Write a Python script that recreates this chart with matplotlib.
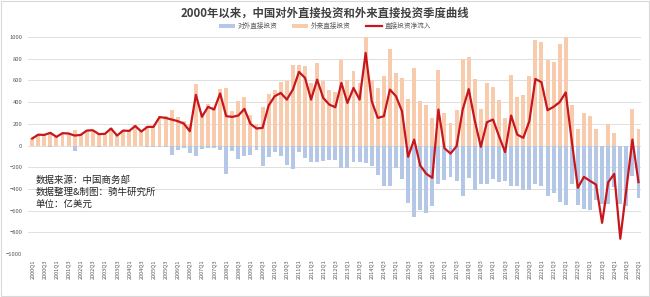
import numpy as np
import matplotlib
matplotlib.use("Agg")
import matplotlib.pyplot as plt
from matplotlib.patches import Rectangle

plt.rcParams['font.family'] = ['Noto Sans CJK SC', 'DejaVu Sans']

# quarters 2000Q1 .. 2025Q1
years = list(range(2000, 2026))
quarters = [f"{y}Q{q}" for y in years for q in range(1, 5)][:101]

# 外来直接投资 (inflow, 亿美元)
inflow = [70, 105, 100, 127, 85, 120, 116, 147, 103, 143,
          146, 115, 113, 162, 97, 143, 140, 185, 134, 182,
          182, 277, 270, 330, 265, 223, 202, 563, 300, 382,
          352, 525, 531, 320, 409, 445, 286, 200, 353, 473,
          516, 585, 595, 740, 740, 738, 578, 762, 595, 515,
          490, 785, 600, 688, 575, 1010, 600, 535, 640, 888,
          665, 625, 425, 718, 415, 375, 258, 700, 300, 209,
          332, 800, 818, 618, 341, 578, 541, 424, 258, 655,
          449, 470, 645, 972, 954, 787, 769, 932, 1030, 378,
          154, 301, 277, 148, -180, 203, 117, -320, -150, 340,
          148]

# 对外直接投资 (outflow, 亿美元)
outflow = [-5, -5, -3, -10, -5, -6, -5, -55, -5, -5,
           -5, -10, -5, -5, -5, -5, -5, -5, -5, -10,
           -10, -15, -15, -90, -40, -20, -70, -95, -35, -25,
           -20, -45, -260, -55, -123, -98, -83, -43, -190, -104,
           -61, -98, -175, -215, -61, -114, -154, -154, -145, -135,
           -135, -206, -206, -154, -154, -160, -190, -276, -369, -369,
           -206, -313, -528, -660, -596, -627, -559, -359, -320, -289,
           -326, -461, -298, -406, -359, -359, -307, -341, -326, -375,
           -369, -406, -406, -359, -375, -464, -436, -523, -550, -359,
           -545, -585, -591, -498, -535, -542, -384, -540, -560, -283,
           -482]

# 直接投资净流入 (net inflow, 亿美元)
net = [65, 100, 98, 117, 80, 114, 111, 92, 98, 138,
       141, 105, 108, 157, 92, 138, 135, 180, 129, 172,
       172, 262, 255, 240, 225, 203, 132, 468, 265, 357,
       332, 480, 271, 264, 277, 338, 200, 157, 163, 369,
       455, 485, 424, 516, 679, 624, 424, 608, 439, 378,
       353, 577, 393, 531, 424, 854, 409, 255, 270, 516,
       455, 316, -104, 55, -184, -261, -298, 332, -25, -74,
       -6, 330, 520, 230, -12, 215, 240, 86, -61, 277,
       101, 71, 224, 614, 584, 326, 357, 400, 490, 40,
       -390, -289, -326, -360, -713, -339, -262, -860, -405, 55,
       -338]

x = np.arange(len(quarters))

fig = plt.figure(figsize=(6.5, 2.97), dpi=100)
ax = fig.add_axes([0.043, 0.145, 0.943, 0.730])

b_in = ax.bar(x, inflow, width=0.65, color='#f8cbad', zorder=2)
b_out = ax.bar(x, outflow, width=0.65, color='#b4c7e7', zorder=3)
ln, = ax.plot(x, net, color='#c8161d', lw=1.6, zorder=4)

ax.set_ylim(-1000, 1000)
ax.set_yticks(np.arange(-1000, 1001, 200))
ax.set_xlim(-0.7, 100.4)
ax.set_xticks(x[::2])
ax.set_xticklabels(quarters[::2], rotation=90, fontsize=4, color='#595959')
ax.tick_params(axis='y', labelsize=4.2, labelcolor='#595959', length=0, pad=4)
ax.tick_params(axis='x', length=0, pad=4)
ax.grid(axis='y', color='#d9d9d9', lw=0.6, zorder=0)
for s in ax.spines.values():
    s.set_visible(False)

fig.text(0.5, 0.957, '2000年以来，中国对外直接投资和外来直接投资季度曲线',
         ha='center', va='center', fontsize=8.2, fontweight='bold', color='#404040')

fig.legend([b_out, b_in, ln], ['对外直接投资', '外来直接投资', '直接投资净流入'], ncol=3,
           loc='center', bbox_to_anchor=(0.5, 0.912), frameon=False,
           fontsize=4.8, handlelength=2.4, handleheight=0.6,
           columnspacing=2.2, handletextpad=0.4, labelcolor='#595959')

ax.text(0.012, 0.205, '数据来源：中国商务部\n数据整理&制图：骑牛研究所\n单位：亿美元',
        transform=ax.transAxes, ha='left', va='bottom', fontsize=6.8,
        color='#262626', linespacing=1.45)

fig.patches.append(Rectangle((0.002, 0.004), 0.996, 0.992, transform=fig.transFigure,
                             fill=False, ec='#d9d9d9', lw=0.8))

fig.savefig('out.png', dpi=100)
